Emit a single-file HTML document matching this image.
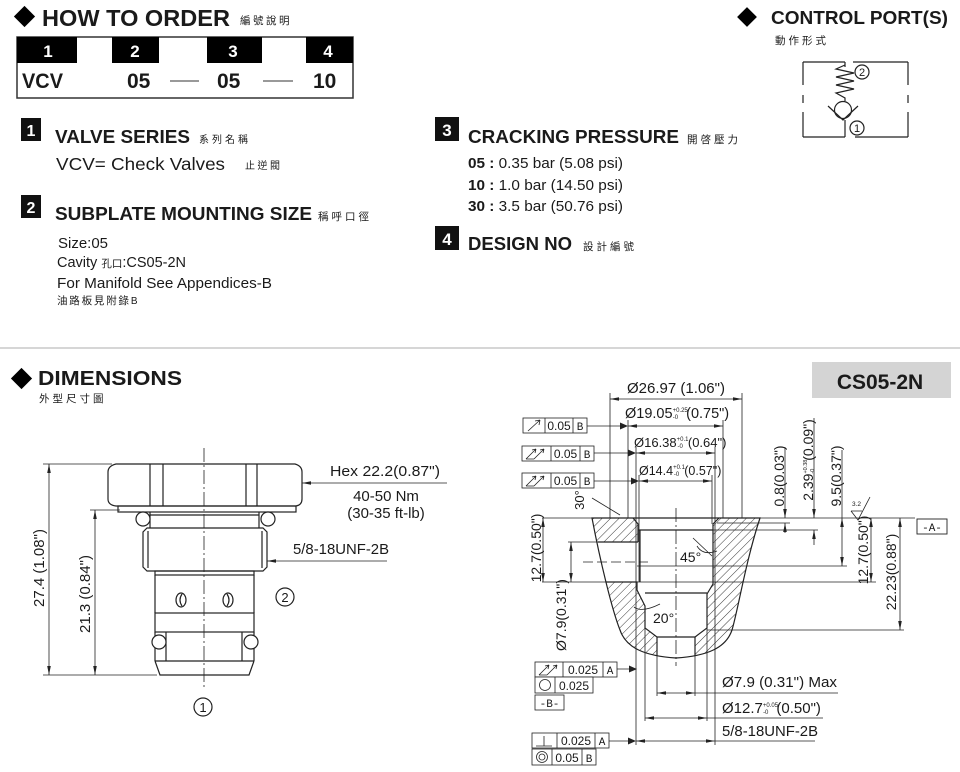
<!DOCTYPE html>
<html><head><meta charset="utf-8"><style>
html,body{margin:0;padding:0;background:#fff;}
svg{display:block;}
text{font-family:"Liberation Sans","Noto Sans CJK TC",sans-serif;fill:#1a1a1a;}
.c{font-family:"Noto Sans CJK TC","Noto Sans CJK SC",sans-serif;}
.b{font-weight:bold;}
.m{font-family:"Liberation Mono",monospace;}
.ln{stroke:#222;stroke-width:1.2;fill:none;}
.th{stroke:#222;stroke-width:0.8;fill:none;}
</style></head><body>
<svg width="960" height="772" viewBox="0 0 960 772" xmlns="http://www.w3.org/2000/svg">
<defs>
<marker id="a" viewBox="0 0 10 4" refX="10" refY="2" markerWidth="9" markerHeight="3.6" markerUnits="userSpaceOnUse" orient="auto-start-reverse"><path d="M0,0 L10,2 L0,4 z" fill="#222"/></marker>
<pattern id="h" patternUnits="userSpaceOnUse" width="6" height="6" patternTransform="rotate(45)"><line x1="0" y1="0" x2="0" y2="6" stroke="#222" stroke-width="0.9"/></pattern>
<clipPath id="part"><path d="M592,518 L760,518 C746,560 738,610 732,630 C726,648 707,656 676,658 C645,656 626,648 620,630 C612,610 600,560 592,518 Z"/></clipPath>
</defs>

<!-- HOW TO ORDER -->
<rect x="17" y="9" width="15" height="15" transform="rotate(45 24.5 16.5)" fill="#000"/>
<text x="42" y="26" class="b" font-size="23" textLength="188" lengthAdjust="spacingAndGlyphs">HOW TO  ORDER</text>
<text x="240" y="24" class="c" font-size="10.5" letter-spacing="2.5">編號說明</text>

<rect x="17" y="37" width="336" height="61" fill="#fff" stroke="#333" stroke-width="1.5"/>
<rect x="17" y="37" width="60" height="26" fill="#000"/>
<rect x="112" y="37" width="47" height="26" fill="#000"/>
<rect x="207" y="37" width="55" height="26" fill="#000"/>
<rect x="306" y="37" width="47" height="26" fill="#000"/>
<text x="48" y="57" class="b" font-size="17" fill="#fff" style="fill:#fff" text-anchor="middle">1</text>
<text x="135" y="57" class="b" font-size="17" style="fill:#fff" text-anchor="middle">2</text>
<text x="233" y="57" class="b" font-size="17" style="fill:#fff" text-anchor="middle">3</text>
<text x="328" y="57" class="b" font-size="17" style="fill:#fff" text-anchor="middle">4</text>
<text x="22" y="88" class="b" font-size="21" textLength="41" lengthAdjust="spacingAndGlyphs">VCV</text>
<text x="127" y="88" class="b" font-size="21">05</text>
<text x="217" y="88" class="b" font-size="21">05</text>
<text x="313" y="88" class="b" font-size="21">10</text>
<line x1="170" y1="81" x2="199" y2="81" stroke="#333" stroke-width="1"/>
<line x1="263" y1="81" x2="293" y2="81" stroke="#333" stroke-width="1"/>

<!-- CONTROL PORT -->
<rect x="740" y="10" width="14" height="14" transform="rotate(45 747 17)" fill="#000"/>
<text x="771" y="24" class="b" font-size="18.5" textLength="177" lengthAdjust="spacingAndGlyphs">CONTROL PORT(S)</text>
<text x="775" y="44" class="c" font-size="10.5" letter-spacing="3">動作形式</text>
<g class="ln" stroke-width="1.1">
<path d="M803,62 L845,62 M853,62 L908,62 M803,137 L845,137 M855,137 L908,137"/>
<path d="M803,62 V85 M803,95 V103 M803,112 V137 M908,62 V85 M908,95 V103 M908,112 V137"/>
<path d="M845,62 V67 M845,120 V137"/>
<path d="M845,65 L836,69 L854,73 L836,77 L854,81 L836,85 L854,89 L836,93 L845,98 V101"/>
<circle cx="843" cy="110" r="8.5"/>
<path d="M828,106 L843,120 L858,106"/>
<circle cx="862" cy="72" r="7"/>
<circle cx="857" cy="128" r="7"/>
</g>
<text x="862" y="76" font-size="11" text-anchor="middle">2</text>
<text x="857" y="132" font-size="11" text-anchor="middle">1</text>

<!-- Section 1 -->
<rect x="21" y="118" width="20" height="23" fill="#111"/>
<text x="31" y="136" class="b" font-size="16" style="fill:#fff" text-anchor="middle">1</text>
<text x="55" y="143" class="b" font-size="18.5" textLength="135" lengthAdjust="spacingAndGlyphs">VALVE SERIES</text>
<text x="199" y="143" class="c" font-size="10" letter-spacing="3">系列名稱</text>
<text x="56" y="170" font-size="17.5" textLength="169" lengthAdjust="spacingAndGlyphs">VCV= Check Valves</text>
<text x="245" y="169" class="c" font-size="10" letter-spacing="2.5">止逆閥</text>

<!-- Section 2 -->
<rect x="21" y="195" width="20" height="23" fill="#111"/>
<text x="31" y="213" class="b" font-size="16" style="fill:#fff" text-anchor="middle">2</text>
<text x="55" y="220" class="b" font-size="18.5" textLength="257" lengthAdjust="spacingAndGlyphs">SUBPLATE MOUNTING SIZE</text>
<text x="318" y="220" class="c" font-size="10.5" letter-spacing="3">稱呼口徑</text>
<text x="58" y="248" font-size="14.5" textLength="50" lengthAdjust="spacingAndGlyphs">Size:05</text>
<text x="57" y="267" font-size="14.5">Cavity <tspan class="c" font-size="10.5">孔口</tspan>:CS05-2N</text>
<text x="57" y="288" font-size="14.5" textLength="215" lengthAdjust="spacingAndGlyphs">For Manifold See Appendices-B</text>
<text x="57" y="304" class="c" font-size="10.5" letter-spacing="1.8">油路板見附錄<tspan style="font-family:'Liberation Sans',sans-serif" font-size="10">B</tspan></text>

<!-- Section 3 -->
<rect x="435" y="117" width="24" height="24" fill="#111"/>
<text x="447" y="136" class="b" font-size="17" style="fill:#fff" text-anchor="middle">3</text>
<text x="468" y="143" class="b" font-size="18.5" textLength="211" lengthAdjust="spacingAndGlyphs">CRACKING PRESSURE</text>
<text x="687" y="143" class="c" font-size="10.5" letter-spacing="3">開啓壓力</text>
<text x="468" y="168" font-size="14.5" textLength="155" lengthAdjust="spacingAndGlyphs"><tspan class="b">05 :</tspan> 0.35 bar (5.08 psi)</text>
<text x="468" y="190" font-size="14.5" textLength="155" lengthAdjust="spacingAndGlyphs"><tspan class="b">10 :</tspan> 1.0 bar (14.50 psi)</text>
<text x="468" y="211" font-size="14.5" textLength="155" lengthAdjust="spacingAndGlyphs"><tspan class="b">30 :</tspan> 3.5 bar (50.76 psi)</text>

<!-- Section 4 -->
<rect x="435" y="226" width="24" height="24" fill="#111"/>
<text x="447" y="245" class="b" font-size="17" style="fill:#fff" text-anchor="middle">4</text>
<text x="468" y="250" class="b" font-size="18.5" textLength="104" lengthAdjust="spacingAndGlyphs">DESIGN NO</text>
<text x="583" y="250" class="c" font-size="10.5" letter-spacing="3">設計編號</text>

<!-- divider -->
<line x1="0" y1="348" x2="960" y2="348" stroke="#c8c8c8" stroke-width="1.5"/>

<!-- DIMENSIONS -->
<rect x="14" y="371" width="15" height="15" transform="rotate(45 21.5 378.5)" fill="#000"/>
<text x="38" y="385" class="b" font-size="20.5" textLength="144" lengthAdjust="spacingAndGlyphs">DIMENSIONS</text>
<text x="39" y="402" class="c" font-size="10.5" letter-spacing="3">外型尺寸圖</text>

<rect x="812" y="362" width="139" height="36" fill="#d4d4d4"/>
<text x="880" y="389" class="b" font-size="21" text-anchor="middle">CS05-2N</text>

<!-- LEFT DRAWING -->
<line x1="204" y1="448" x2="204" y2="688" stroke="#222" stroke-width="0.8" stroke-dasharray="14,3,2,3"/>
<g class="ln">
<path d="M116,464 L295,464 Q302,466 302,472 L302,499 Q302,505 296,506 L116,506 Q108,505 108,499 L108,472 Q108,466 116,464 Z"/>
<path d="M150,464 V506 M163,464 V506 M246,464 V506 M257,464 V506"/>
<rect x="118" y="506" width="178" height="6"/>
<path d="M150,512 V528 M259,512 V528 M150,515 H259"/>
<circle cx="143" cy="519" r="7" fill="#fff"/>
<circle cx="268" cy="519" r="7" fill="#fff"/>
<path d="M147,528 L263,528 L267,532 L267,567 L263,571 L147,571 L143,567 L143,532 Z"/>
<path d="M148,531 V568 M262,531 V568"/>
<rect x="155" y="571" width="99" height="4"/>
<path d="M155,575 V613 M254,575 V613"/>
<rect x="155" y="613" width="99" height="19"/>
<path d="M155,632 V661 M254,632 V661 M166,632 V661 M242,632 V661"/>
<circle cx="159" cy="642" r="7" fill="#fff"/>
<circle cx="251" cy="642" r="7" fill="#fff"/>
<path d="M155,661 H254 M155,661 L160,675 L249,675 L254,661"/>
<ellipse cx="181" cy="600" rx="5" ry="7"/>
<path d="M182,594 Q178,600 182,606"/>
<ellipse cx="228" cy="600" rx="5" ry="7"/>
<path d="M227,594 Q231,600 227,606"/>
<circle cx="285" cy="597" r="9"/>
<circle cx="203" cy="707" r="9"/>
</g>
<text x="285" y="602" font-size="13" text-anchor="middle">2</text>
<text x="203" y="712" font-size="13" text-anchor="middle">1</text>
<g class="th">
<path d="M43,464 H112 M43,675 H157 M90,510 H120"/>
<line x1="49" y1="464" x2="49" y2="675" marker-start="url(#a)" marker-end="url(#a)"/>
<line x1="95" y1="510" x2="95" y2="675" marker-start="url(#a)" marker-end="url(#a)"/>
<line x1="447" y1="483" x2="302" y2="483" marker-end="url(#a)"/>
<line x1="387" y1="561" x2="267" y2="561" marker-end="url(#a)"/>
</g>
<text transform="translate(44,568) rotate(-90)" font-size="15" text-anchor="middle">27.4 (1.08")</text>
<text transform="translate(90,594) rotate(-90)" font-size="15" text-anchor="middle">21.3 (0.84")</text>
<text x="330" y="476" font-size="15" textLength="110" lengthAdjust="spacingAndGlyphs">Hex  22.2(0.87")</text>
<text x="386" y="501" font-size="15" text-anchor="middle">40-50 Nm</text>
<text x="386" y="518" font-size="15" text-anchor="middle">(30-35 ft-lb)</text>
<text x="293" y="554" font-size="15" textLength="96" lengthAdjust="spacingAndGlyphs">5/8-18UNF-2B</text>

<!-- RIGHT DRAWING -->
<g clip-path="url(#part)">
<path d="M580,518 L633,518 L638,524 L638,542 L580,542 Z" fill="url(#h)"/>
<path d="M580,582 L637,582 L637,590 L645,606 L645,628 L657,637 L657,680 L580,680 Z" fill="url(#h)"/>
<path d="M719,518 L780,518 L780,680 L695,680 L695,637 L707,628 L707,594 L713,584 L713,524 Z" fill="url(#h)"/>
</g>
<g class="ln">
<path d="M592,518 L760,518 C746,560 738,610 732,630 C726,648 707,656 676,658 C645,656 626,648 620,630 C612,610 600,560 592,518 Z"/>
<path d="M633,518 L638,524 L638,542 M598,542 H638 M606,582 H637 L637,590 L645,606 L645,628 L657,637 L657,656"/>
<path d="M719,518 L713,524 L713,584 L707,594 L707,628 L695,637 L695,656"/>
<path d="M638,530 H713 M645,593 H707 M657,637 H695 M640,530 V582"/>
</g>
<line x1="676" y1="508" x2="676" y2="666" stroke="#222" stroke-width="0.8" stroke-dasharray="14,3,2,3"/>
<line x1="583" y1="562" x2="648" y2="562" stroke="#222" stroke-width="0.8" stroke-dasharray="10,4"/>
<g class="th">
<!-- ext lines -->
<path d="M610,393 V518 M742,393 V518 M628,420 V518 M723,420 V518 M636,447 V745 M715,447 V745 M639,475 V582 M712,475 V524"/>
<path d="M645,628 V721 M707,628 V721 M657,656 V696 M695,656 V696"/>
<path d="M542,518 H915 M542,582 H876 M568,542 H598 M637,566 H847 M707,630 H904 M713,530 H818 M717,523 H790"/>
<!-- horizontal dims -->
<line x1="610" y1="399" x2="742" y2="399" marker-start="url(#a)" marker-end="url(#a)"/>
<line x1="628" y1="426" x2="723" y2="426" marker-start="url(#a)" marker-end="url(#a)"/>
<line x1="636" y1="453" x2="715" y2="453" marker-start="url(#a)" marker-end="url(#a)"/>
<line x1="639" y1="481" x2="712" y2="481" marker-start="url(#a)" marker-end="url(#a)"/>
<line x1="657" y1="693" x2="695" y2="693" marker-start="url(#a)" marker-end="url(#a)"/>
<line x1="695" y1="693" x2="838" y2="693"/>
<line x1="645" y1="718" x2="707" y2="718" marker-start="url(#a)" marker-end="url(#a)"/>
<line x1="707" y1="718" x2="823" y2="718"/>
<line x1="636" y1="741" x2="715" y2="741" marker-start="url(#a)" marker-end="url(#a)"/>
<line x1="715" y1="741" x2="815" y2="741"/>
<!-- vertical dims -->
<line x1="543" y1="518" x2="543" y2="582" marker-start="url(#a)" marker-end="url(#a)"/>
<line x1="571" y1="542" x2="571" y2="582" marker-start="url(#a)" marker-end="url(#a)"/>
<line x1="785" y1="447" x2="785" y2="518" marker-end="url(#a)"/>
<line x1="785" y1="533" x2="785" y2="523" marker-end="url(#a)"/>
<line x1="814" y1="418" x2="814" y2="518" marker-end="url(#a)"/>
<line x1="814" y1="545" x2="814" y2="530" marker-end="url(#a)"/>
<line x1="842" y1="450" x2="842" y2="518"/>
<line x1="842" y1="518" x2="842" y2="566" marker-start="url(#a)" marker-end="url(#a)"/>
<line x1="871" y1="518" x2="871" y2="582" marker-start="url(#a)" marker-end="url(#a)"/>
<line x1="900" y1="518" x2="900" y2="630" marker-start="url(#a)" marker-end="url(#a)"/>
<!-- angle marks -->
<path d="M592,498 L620,515"/>
<path d="M693,538 L712,556 M697,546 Q703,556 717,551"/>
<path d="M634,607 Q642,613 660,604"/>
<!-- surface finish -->
<path d="M851,511 L858,520 L870,497 M851,511 H862"/>
<!-- GD&T leaders -->
<path d="M587,426 H622 M594,453 H630 M594,481 H633 M617,669 H631 M609,741 H630"/>
</g>
<path d="M628,426 L620,422.5 L620,429.5 Z M636,453 L628,449.5 L628,456.5 Z M639,481 L631,477.5 L631,484.5 Z M637,669 L629,665.5 L629,672.5 Z M636,741 L628,737.5 L628,744.5 Z" fill="#222"/>
<text x="852" y="506" font-size="6.5">3.2</text>

<!-- right drawing texts -->
<text x="676" y="393" font-size="15" text-anchor="middle" textLength="98" lengthAdjust="spacingAndGlyphs">Ø26.97 (1.06")</text>
<text x="625" y="418" font-size="14.5">Ø19.05<tspan font-size="6" dy="-6">+0.25</tspan><tspan font-size="6" dx="-15" dy="7">-0</tspan><tspan font-size="14.5" dx="8" dy="-1">(0.75")</tspan></text>
<text x="634" y="447" font-size="13">Ø16.38<tspan font-size="6" dy="-6">+0.1</tspan><tspan font-size="6" dx="-11" dy="7">-0</tspan><tspan font-size="13" dx="5" dy="-1">(0.64")</tspan></text>
<text x="639" y="475" font-size="12.5">Ø14.4<tspan font-size="6" dy="-6">+0.1</tspan><tspan font-size="6" dx="-11" dy="7">-0</tspan><tspan font-size="12.5" dx="5" dy="-1">(0.57")</tspan></text>
<text transform="translate(584,500) rotate(-90)" font-size="13" text-anchor="middle">30°</text>
<text x="680" y="562" font-size="14">45°</text>
<text x="653" y="623" font-size="14">20°</text>
<text transform="translate(541,548) rotate(-90)" font-size="14" text-anchor="middle">12.7(0.50")</text>
<text transform="translate(566,615) rotate(-90)" font-size="14" text-anchor="middle">Ø7.9(0.31")</text>
<text transform="translate(784,476) rotate(-90)" font-size="14" text-anchor="middle">0.8(0.03")</text>
<text transform="translate(813,460) rotate(-90)" font-size="14" text-anchor="middle">2.39<tspan font-size="5.5" dy="-6">+0.38</tspan><tspan font-size="5.5" dx="-14" dy="7">-0</tspan><tspan font-size="14" dx="8" dy="-1">(0.09")</tspan></text>
<text transform="translate(841,476) rotate(-90)" font-size="14" text-anchor="middle">9.5(0.37")</text>
<text transform="translate(868,550) rotate(-90)" font-size="14" text-anchor="middle">12.7(0.50")</text>
<text transform="translate(896,572) rotate(-90)" font-size="14" text-anchor="middle">22.23(0.88")</text>
<text x="722" y="687" font-size="15" textLength="115" lengthAdjust="spacingAndGlyphs">Ø7.9 (0.31") Max</text>
<text x="722" y="713" font-size="15">Ø12.7<tspan font-size="6" dy="-6">+0.05</tspan><tspan font-size="6" dx="-15" dy="7">-0</tspan><tspan font-size="15" dx="8" dy="-1">(0.50")</tspan></text>
<text x="722" y="736" font-size="15" textLength="96" lengthAdjust="spacingAndGlyphs">5/8-18UNF-2B</text>

<!-- datum boxes -->
<rect x="917" y="519" width="30" height="15" fill="#fff" stroke="#222" stroke-width="0.9"/>
<text x="932" y="531" class="m" font-size="11" text-anchor="middle">-A-</text>

<!-- GD&T top boxes -->
<g class="th">
<rect x="523" y="418" width="64" height="15" fill="#fff"/>
<path d="M545,418 V433 M573,418 V433"/>
<path d="M528,431 L540,420 M540,420 L535,421 M540,420 L539,425"/>
<rect x="522" y="446" width="72" height="15" fill="#fff"/>
<path d="M551,446 V461 M580,446 V461"/>
<path d="M526,459 H534 M526,459 L536,449 M534,459 L544,449 M536,449 L532,450 M536,449 L535,453 M544,449 L540,450 M544,449 L543,453"/>
<rect x="522" y="473" width="72" height="15" fill="#fff"/>
<path d="M551,473 V488 M580,473 V488"/>
<path d="M526,486 H534 M526,486 L536,476 M534,486 L544,476 M536,476 L532,477 M536,476 L535,480 M544,476 L540,477 M544,476 L543,480"/>
</g>
<text x="559" y="430" font-size="12" text-anchor="middle">0.05</text>
<text x="580" y="430" class="m" font-size="11" text-anchor="middle">B</text>
<text x="565.5" y="458" font-size="12" text-anchor="middle">0.05</text>
<text x="587" y="458" class="m" font-size="11" text-anchor="middle">B</text>
<text x="565.5" y="485" font-size="12" text-anchor="middle">0.05</text>
<text x="587" y="485" class="m" font-size="11" text-anchor="middle">B</text>

<!-- GD&T bottom boxes -->
<g class="th">
<rect x="535" y="662" width="82" height="15" fill="#fff"/>
<path d="M563,662 V677 M603,662 V677"/>
<path d="M539,675 H547 M539,675 L549,665 M547,675 L557,665 M549,665 L545,666 M549,665 L548,669 M557,665 L553,666 M557,665 L556,669"/>
<rect x="535" y="677" width="58" height="16" fill="#fff"/>
<path d="M555,677 V693"/>
<circle cx="545" cy="685" r="5.5"/>
<rect x="535" y="695" width="29" height="15" fill="#fff"/>
<rect x="532" y="733" width="77" height="15" fill="#fff"/>
<path d="M557,733 V748 M595,733 V748"/>
<path d="M544,736 V746 M536,746 H552"/>
<rect x="532" y="749" width="64" height="16" fill="#fff"/>
<path d="M552,749 V765 M582,749 V765"/>
<circle cx="542" cy="757" r="5.5"/>
<circle cx="542" cy="757" r="3"/>
</g>
<text x="583" y="674" font-size="12" text-anchor="middle">0.025</text>
<text x="610" y="674" class="m" font-size="11" text-anchor="middle">A</text>
<text x="574" y="690" font-size="12" text-anchor="middle">0.025</text>
<text x="549.5" y="707" class="m" font-size="11" text-anchor="middle">-B-</text>
<text x="576" y="745" font-size="12" text-anchor="middle">0.025</text>
<text x="602" y="745" class="m" font-size="11" text-anchor="middle">A</text>
<text x="567" y="762" font-size="12" text-anchor="middle">0.05</text>
<text x="589" y="762" class="m" font-size="11" text-anchor="middle">B</text>
</svg>
</body></html>
